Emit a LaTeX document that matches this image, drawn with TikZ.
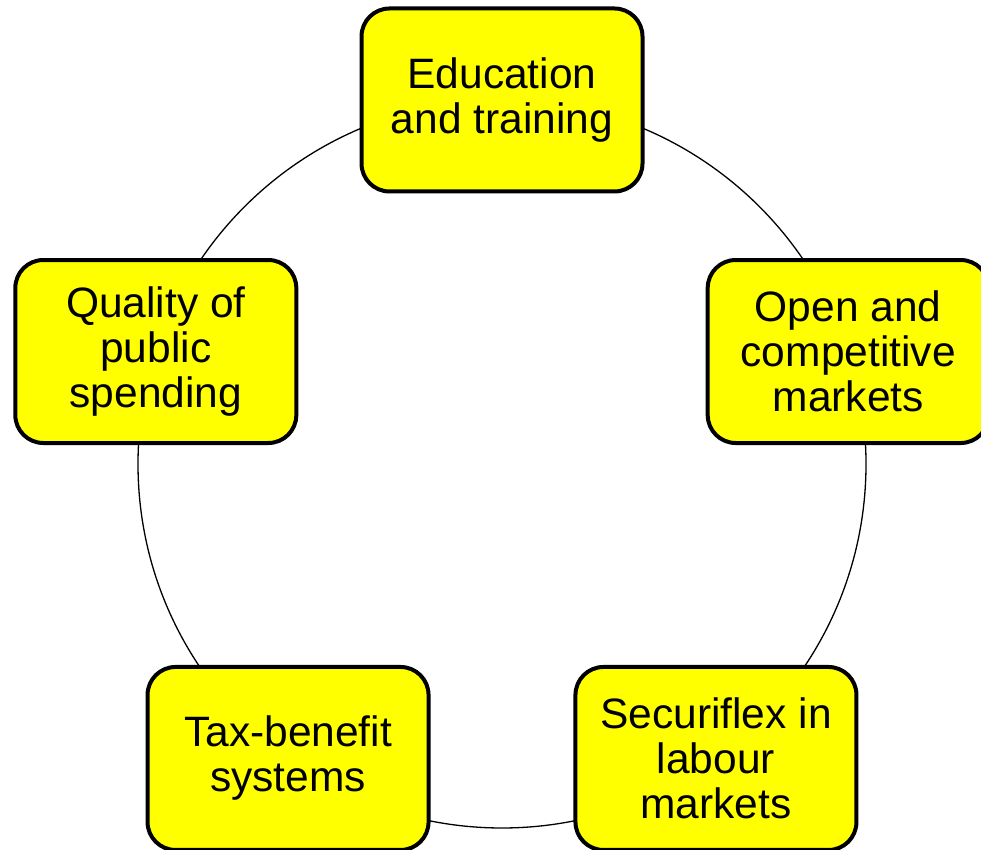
\documentclass[tikz,border=0pt]{standalone}
\usepackage{fontspec}
\setmainfont{Liberation Sans}
\usetikzlibrary{calc}
\definecolor{boxyellow}{RGB}{255,255,0}
\begin{document}
\begin{tikzpicture}[x=1pt,y=1pt,
  topic/.style={draw=black, line width=4pt, fill=boxyellow, rounded corners=28pt,
    minimum width=281pt, minimum height=183pt, inner sep=0pt, align=center,
    font=\fontsize{42.5}{45}\selectfont}]
\useasboundingbox (0,0) rectangle (981,850);
\clip (0,0) rectangle (981,850);
\coordinate (c) at (502,386);
\draw[line width=1.3pt] (c) circle (364);
\node[topic] (edu) at ($(c)+(90:364)$) {Education\\and training};
\node[topic] (qual) at ($(c)+(162:364)$) {Quality of\\public\\spending};
\node[topic] (open) at ($(c)+(18:364)$) {Open and\\competitive\\markets};
\node[topic] (tax) at ($(c)+(234:364)$) {Tax-benefit\\systems};
\node[topic] (sec) at ($(c)+(306:364)$) {Securiflex in\\labour\\markets};
\end{tikzpicture}
\end{document}
